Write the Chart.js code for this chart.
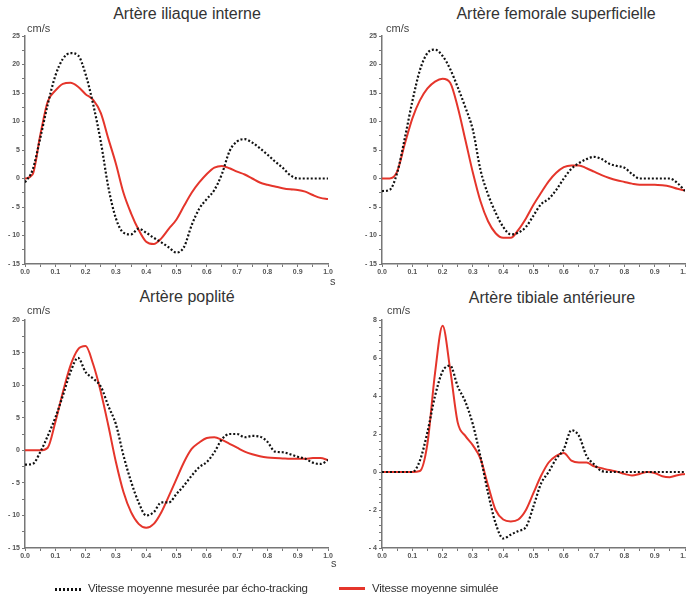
<!DOCTYPE html>
<html lang="fr">
<head>
<meta charset="utf-8">
<title>Vitesse moyenne - artères</title>
<script src="https://cdn.jsdelivr.net/npm/chart.js@4.4.1/dist/chart.umd.min.js"></script>
<style>
  html, body { margin: 0; padding: 0; background: #fff; overflow: hidden; }
  body { width: 686px; height: 603px; position: relative; font-family: 'Liberation Sans', Arial, sans-serif; color: #333; }
  canvas { position: absolute; }
  .titre { position: absolute; font-size: 16px; line-height: 1; white-space: nowrap; transform: translateX(-50%); color: #333; }
  .unite { position: absolute; font-size: 11px; line-height: 1; color: #444; white-space: nowrap; }
  .legende { position: absolute; font-size: 11.5px; line-height: 1; letter-spacing: -0.2px; white-space: nowrap; color: #333; }
  .ech-pointille { position: absolute; height: 2.5px; background: repeating-linear-gradient(90deg, #111 0 2px, transparent 2px 4px); }
  .ech-rouge { position: absolute; height: 3px; background: #e5352b; }
</style>
</head>
<body>

<div class="titre" style="left:187px; top:6px;">Artère iliaque interne</div>
<div class="titre" style="left:556px; top:6px;">Artère femorale superficielle</div>
<div class="titre" style="left:187px; top:289px;">Artère poplité</div>
<div class="titre" style="left:552px; top:290px;">Artère tibiale antérieure</div>

<canvas id="gIliaque" width="343" height="290" style="left:0; top:0;"></canvas>
<canvas id="gFemorale" width="360" height="290" style="left:343px; top:0;"></canvas>
<canvas id="gPoplite" width="343" height="290" style="left:0; top:285px;"></canvas>
<canvas id="gTibiale" width="360" height="290" style="left:343px; top:285px;"></canvas>

<div class="unite" style="left:27px; top:23px;">cm/s</div>
<div class="unite" style="left:386px; top:23px;">cm/s</div>
<div class="unite" style="left:27px; top:305px;">cm/s</div>
<div class="unite" style="left:387px; top:305px;">cm/s</div>
<div class="unite" style="left:330px; top:276px;">s</div>
<div class="unite" style="left:331px; top:558px;">s</div>

<div class="ech-pointille" style="left:55px; top:588px; width:26px;"></div>
<div class="legende" style="left:88px; top:583px;">Vitesse moyenne mesurée par écho-tracking</div>
<div class="ech-rouge" style="left:339px; top:587px; width:26px;"></div>
<div class="legende" style="left:372px; top:583px;">Vitesse moyenne simulée</div>

<script>
// temps (s), commun aux quatre graphiques
const temps = [0, 0.025, 0.05, 0.075, 0.1, 0.125, 0.15, 0.175, 0.2, 0.225,
  0.25, 0.275, 0.3, 0.325, 0.35, 0.375, 0.4, 0.425, 0.45, 0.475,
  0.5, 0.525, 0.55, 0.575, 0.6, 0.625, 0.65, 0.675, 0.7, 0.725,
  0.75, 0.775, 0.8, 0.825, 0.85, 0.875, 0.9, 0.925, 0.95, 0.975, 1.0];

// vitesses (cm/s)
const iliaqueMesure = [-0.7, 1.5, 7, 13, 18, 21, 22, 21.6, 18.3, 13,
  6.5, -1.5, -7, -9.5, -9.8, -8.8, -9.5, -10.4, -11.2, -12.1,
  -13, -12, -8.2, -5.3, -3.6, -2, 0.8, 4.8, 6.5, 6.9,
  6.3, 5.3, 4.2, 3, 1.9, 0.6, 0, 0, 0, 0, 0];
const iliaqueSimule = [0, 0.7, 7.5, 13.5, 15.4, 16.6, 16.8, 16.1, 14.8, 13.8,
  11.5, 7, 2.6, -2.5, -6.1, -9, -11.1, -11.5, -10.5, -8.8,
  -7.2, -4.8, -2.5, -0.7, 0.8, 1.9, 2.2, 1.8, 1.2, 0.7,
  0, -0.7, -1.1, -1.4, -1.7, -1.9, -2, -2.3, -2.9, -3.4, -3.6];

const femoraleMesure = [-2.2, -2, 1, 7, 13.5, 19, 22, 22.6, 21.5, 19.2,
  16, 12.5, 8.5, 1.5, -2.8, -6, -8.5, -9.8, -9.5, -8.5,
  -6.5, -4.5, -3.6, -2, 0, 1.7, 2.7, 3.4, 3.8, 3.4,
  2.6, 2.2, 1.9, 0.8, 0, 0, 0, 0, 0, -0.8, -2.2];
const femoraleSimule = [0, 0, 1.2, 6, 10.5, 13.7, 15.8, 17, 17.5, 16.8,
  12.5, 6.8, 1, -4, -7.5, -9.6, -10.4, -10.4, -9, -7,
  -4.6, -2.5, -0.5, 1, 2, 2.3, 2.3, 1.8, 1.2, 0.6,
  0.1, -0.3, -0.6, -0.9, -1.1, -1.1, -1.1, -1.2, -1.4, -1.8, -2.1];

const popliteMesure = [-2.2, -2.1, -0.3, 2.2, 5, 8.4, 12, 14.2, 12, 11,
  9.8, 6.8, 4, -0.8, -4.8, -8, -10, -9.5, -8, -8,
  -6.7, -5.4, -3.9, -2.6, -1.8, -0.3, 1.7, 2.5, 2.5, 2,
  2.2, 2.1, 1.3, -0.2, -0.3, -0.6, -1, -1.3, -1.9, -2.1, -1.5];
const popliteSimule = [0, 0, 0, 0.4, 4.3, 8.9, 13, 15.5, 16, 13.2,
  9, 3.8, -1.8, -6.4, -9.5, -11.3, -11.9, -11.3, -9.5, -7,
  -4.4, -1.8, 0.2, 1.2, 1.9, 2, 1.6, 1, 0.4, -0.2,
  -0.6, -0.9, -1.1, -1.2, -1.25, -1.3, -1.3, -1.3, -1.2, -1.2, -1.5];

const tibialeMesure = [0, 0, 0, 0, 0, 0.6, 2.1, 4, 5.3, 5.6,
  4.5, 3.7, 2.5, 0.8, -1.1, -2.7, -3.5, -3.3, -3.1, -2.9,
  -1.8, -0.6, 0, 0.7, 1.2, 2.2, 1.9, 0.85, 0.4, 0.05,
  0, 0, 0, 0, 0, 0, 0, 0, 0, 0, 0];
const tibialeSimule = [0, 0, 0, 0, 0, 0.05, 1.5, 5.2, 7.7, 5.4,
  2.6, 1.9, 1.4, 0.7, -0.7, -2, -2.5, -2.6, -2.5, -2,
  -1.1, -0.2, 0.5, 0.85, 1, 0.6, 0.5, 0.5, 0.3, 0.2,
  0.1, 0.02, -0.1, -0.18, -0.1, 0, -0.05, -0.22, -0.27, -0.17, -0.1];

// bornes des axes : [min, max, pas mineur, pas majeur]
const axeTemps = [0, 1, 0.05, 0.1];
const axeIliaque = [-15, 25, 2.5, 5];
const axeFemorale = [-15, 25, 2.5, 5];
const axePoplite = [-15, 20, 2.5, 5];
const axeTibiale = [-4, 8, 0.4, 2];

const POLICE = "'Liberation Sans', Arial, sans-serif";
const GRIS = '#777';

function estMajeur(v, pas) {
  return Math.abs(v / pas - Math.round(v / pas)) < 1e-6;
}

function formatY(v) {
  return v < 0 ? '- ' + Math.abs(v) : String(v);
}

function points(valeurs) {
  return temps.map((t, i) => ({ x: t, y: valeurs[i] }));
}

function creerGraphique(id, mesure, simule, axeY, cadre) {
  const ctx = document.getElementById(id).getContext('2d');
  return new Chart(ctx, {
    type: 'line',
    data: {
      datasets: [
        {
          label: 'Vitesse moyenne mesurée par écho-tracking',
          data: points(mesure),
          borderColor: '#111',
          borderWidth: 2.2,
          borderDash: [2, 2],
          pointRadius: 0,
          cubicInterpolationMode: 'monotone',
          fill: false
        },
        {
          label: 'Vitesse moyenne simulée',
          data: points(simule),
          borderColor: '#e5352b',
          borderWidth: 2,
          pointRadius: 0,
          cubicInterpolationMode: 'monotone',
          fill: false
        }
      ]
    },
    options: {
      responsive: false,
      animation: false,
      layout: { padding: { top: cadre.haut, right: cadre.droite, left: 0, bottom: 0 } },
      plugins: {
        legend: { display: false },
        tooltip: { enabled: false },
        title: { display: false }
      },
      scales: {
        x: {
          type: 'linear',
          min: axeTemps[0],
          max: axeTemps[1],
          afterFit: (s) => { s.height = cadre.basX; },
          border: { color: GRIS, width: 1.5 },
          grid: { drawOnChartArea: false, tickLength: 3, color: GRIS },
          ticks: {
            stepSize: axeTemps[2],
            autoSkip: false,
            maxRotation: 0,
            padding: 1,
            color: '#555',
            font: { family: POLICE, size: 7, weight: 'bold' },
            callback: (v) => estMajeur(v, axeTemps[3]) ? v.toFixed(1) : ''
          }
        },
        y: {
          type: 'linear',
          min: axeY[0],
          max: axeY[1],
          afterFit: (s) => { s.width = cadre.largeurY; },
          border: { color: GRIS, width: 1.5 },
          grid: { drawOnChartArea: false, tickLength: 3, color: GRIS },
          ticks: {
            stepSize: axeY[2],
            autoSkip: false,
            padding: 2,
            color: '#555',
            font: { family: POLICE, size: 7, weight: 'bold' },
            callback: (v) => estMajeur(v, axeY[3]) ? formatY(v) : ''
          }
        }
      }
    }
  });
}

creerGraphique('gIliaque', iliaqueMesure, iliaqueSimule, axeIliaque,
  { haut: 36, droite: 15, basX: 26, largeurY: 25 });
creerGraphique('gFemorale', femoraleMesure, femoraleSimule, axeFemorale,
  { haut: 36, droite: 18, basX: 26, largeurY: 39 });
creerGraphique('gPoplite', popliteMesure, popliteSimule, axePoplite,
  { haut: 35, droite: 15, basX: 27, largeurY: 25 });
creerGraphique('gTibiale', tibialeMesure, tibialeSimule, axeTibiale,
  { haut: 35, droite: 18, basX: 27, largeurY: 39 });
</script>
</body>
</html>
